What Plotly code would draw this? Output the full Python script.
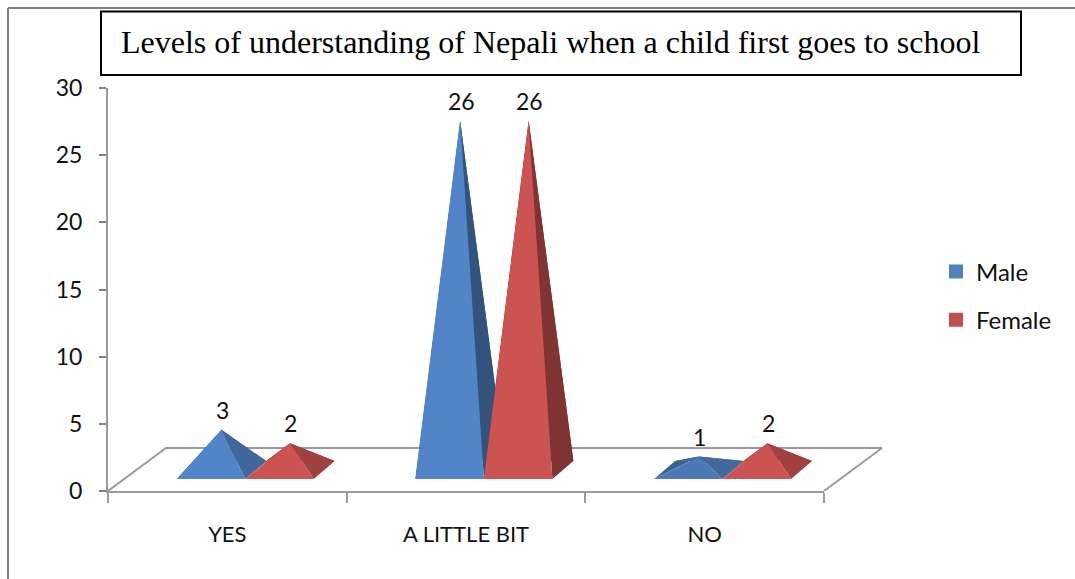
import plotly.graph_objects as go

# Survey counts per answer
categories = ["YES", "A LITTLE BIT", "NO"]
male = [3, 26, 1]
female = [2, 26, 2]
y_ticks = [0, 5, 10, 15, 20, 25, 30]

W, H = 1075, 579
PLOT_L, PLOT_R, PLOT_T, PLOT_B = 108, 824, 88, 491
DRAW_R = 892          # right edge of the wider x axis that carries the 3D marks
FONT = "Lato"
GREY = "#9a9a9a"

# Oblique projection constants, in axis units
CAT_SPLIT = 0.575     # where the two pyramids of a category touch
BASE_W = 0.287        # pyramid base width
BASE_LIFT = 0.89      # front edge of the base above the axis floor
DEPTH_X, DEPTH_Y = 0.088, 1.34   # shift from front to back edge of a base
FLOOR_X, FLOOR_Y = 0.243, 3.2    # shift from front to back edge of the floor


def px(x):
    return x / W


def py(y):
    return 1 - y / H


def shade(rgb, k):
    return "rgb({},{},{})".format(*(int(c * k) for c in rgb))


def face(points, color):
    xs, ys = zip(*points)
    return go.Scatter(x=list(xs) + [xs[0]], y=list(ys) + [ys[0]], mode="lines",
                      xaxis="x2", yaxis="y",
                      fill="toself", fillcolor=color, line=dict(width=0),
                      hoverinfo="skip", showlegend=False)


def pyramid(left, value, rgb):
    fl = (left, BASE_LIFT)
    fr = (left + BASE_W, BASE_LIFT)
    br = (left + BASE_W + DEPTH_X, BASE_LIFT + DEPTH_Y)
    bl = (left + DEPTH_X, BASE_LIFT + DEPTH_Y)
    apex = (left + (BASE_W + DEPTH_X) / 2, BASE_LIFT + DEPTH_Y / 2 + value)
    side = 0.8 - 0.17 * value / 26
    front = 1 - max(0, 0.09 * (2 - value))
    faces = [
        face([fl, bl, apex], shade(rgb, side - 0.06)),
        face([bl, br, apex], shade(rgb, side)),
        face([fr, br, apex], shade(rgb, side)),
        face([fl, fr, apex], shade(rgb, front)),
    ]
    return faces, apex


fig = go.Figure()

# Floor of the 3D box; its front edge is the x axis line
fig.add_trace(go.Scatter(
    x=[0, FLOOR_X, 3 + FLOOR_X, 3],
    y=[0, FLOOR_Y, FLOOR_Y, 0],
    xaxis="x2", yaxis="y",
    mode="lines", line=dict(color=GREY, width=2),
    hoverinfo="skip", showlegend=False))

series = [
    ("Male", male, (82, 133, 199), "#4f81bd", -BASE_W),
    ("Female", female, (203, 83, 81), "#c0504d", 0),
]

for i in range(len(categories)):
    for name, values, rgb, swatch, shift in series:
        faces, apex = pyramid(i + CAT_SPLIT + shift, values[i], rgb)
        fig.add_traces(faces)
        fig.add_annotation(xref="x2", yref="y", x=apex[0], y=apex[1], text=str(values[i]),
                           showarrow=False, yanchor="bottom", yshift=4, xshift=1,
                           font=dict(family=FONT, size=23, color="#111111"))

# Legend entries
for name, values, rgb, swatch, shift in series:
    fig.add_trace(go.Scatter(
        x=[None], y=[None], mode="markers", name=name, legendgroup=name,
        marker=dict(symbol="square", size=14, color=swatch)))

# Outer frame and title box
fig.add_shape(type="line", xref="paper", yref="paper", x0=px(8), x1=1, y0=py(8), y1=py(8),
              line=dict(color="#808080", width=2))
fig.add_shape(type="line", xref="paper", yref="paper", x0=px(8), x1=px(8), y0=py(8), y1=0,
              line=dict(color="#808080", width=2))
fig.add_shape(type="rect", xref="paper", yref="paper", x0=px(101), x1=px(1021), y0=py(11.5), y1=py(75),
              line=dict(color="#000000", width=2), fillcolor="white")
fig.add_annotation(xref="paper", yref="paper", x=px(118.5), y=py(42), xanchor="left", yanchor="middle",
                   text="Levels of understanding of Nepali when a child first goes to school",
                   showarrow=False, font=dict(family="Liberation Serif", size=32, color="#000000"))

cat_px = (PLOT_R - PLOT_L) / 3

fig.update_layout(
    width=W, height=H, margin=dict(l=0, r=0, t=0, b=0, autoexpand=False),
    paper_bgcolor="white", plot_bgcolor="rgba(0,0,0,0)",
    font=dict(family=FONT, size=22, color="#111111"),
    legend=dict(x=px(936), y=py(249.5), xanchor="left", yanchor="top",
                tracegroupgap=14, itemclick=False, font=dict(family=FONT, size=24)),
    xaxis=dict(
        domain=[px(PLOT_L), px(PLOT_R)], range=[0, 3], showgrid=False, zeroline=False,
        showline=True, linecolor=GREY, linewidth=2,
        tickmode="array", tickvals=[i + 0.5 for i in range(len(categories))], ticktext=categories,
        ticks="outside", ticklen=23, tickcolor="rgba(0,0,0,0)",
        minor=dict(tickmode="array", tickvals=[0, 1, 2, 3], ticks="outside", ticklen=10,
                   tickcolor=GREY, tickwidth=2, showgrid=False),
    ),
    xaxis2=dict(
        domain=[px(PLOT_L), px(DRAW_R)], range=[0, (DRAW_R - PLOT_L) / cat_px],
        anchor="y", visible=False,
    ),
    yaxis=dict(
        domain=[py(PLOT_B), py(PLOT_T)], range=[0, 30], showgrid=False, zeroline=False,
        showline=True, linecolor=GREY, linewidth=2,
        tickmode="array", tickvals=y_ticks, ticks="outside", ticklen=7,
        tickcolor="#808080", tickwidth=2, ticklabelstandoff=12,
        tickfont=dict(family=FONT, size=23),
    ),
)

fig.write_html("out.html")
